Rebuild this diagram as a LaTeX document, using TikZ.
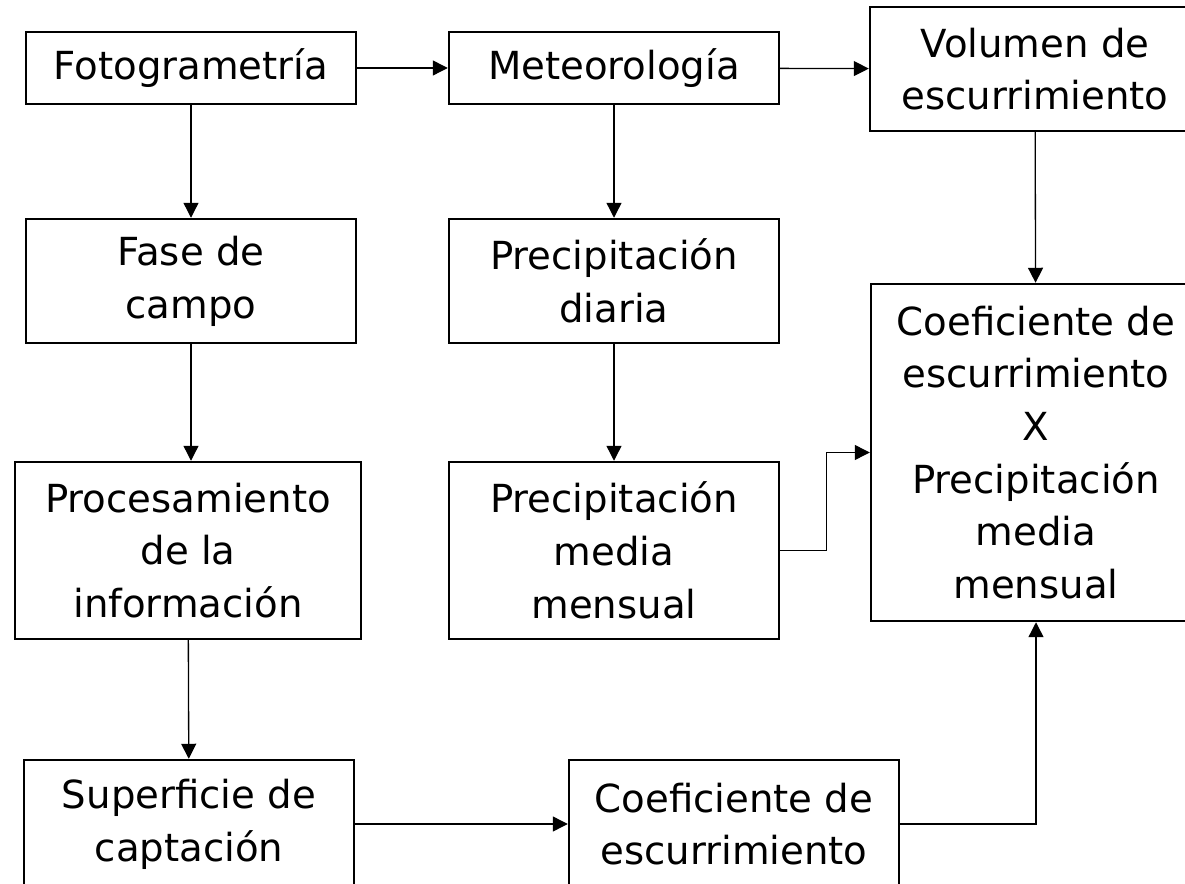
\documentclass[tikz,border=0pt]{standalone}
\usepackage{fontspec}
\setmainfont{DejaVu Sans}
\usetikzlibrary{arrows.meta}

\begin{document}
\begin{tikzpicture}[
            box/.style={rectangle, draw=black, line width=1.4pt, minimum width=6.6cm, minimum height=2.48cm, inner sep=0pt, align=center, font=\fontsize{22}{30}\selectfont},
            arrow/.style={-{Triangle[length=0.3cm, width=0.3cm]}, line width=0.75pt, black}
        ]
            \useasboundingbox (0,0) rectangle (23.7,17.66);

            % Boxes
            \node[box, minimum height=1.44cm] (foto) at (3.82,16.30) {Fotogrametría};
            \node[box, minimum height=1.44cm] (meteo) at (12.28,16.30) {Meteorología};
            \node[box] (volumen) at (20.70,16.28) {Volumen de\\escurrimiento};
            \node[box] (fase) at (3.82,12.04) {Fase de\\campo};
            \node[box] (diaria) at (12.28,12.04) {Precipitación\\diaria};
            \node[box, minimum height=6.74cm] (producto) at (20.72,8.61) {Coeficiente de\\escurrimiento\\X\\Precipitación\\media\\mensual};
            \node[box, minimum width=6.92cm, minimum height=3.54cm] (proc) at (3.76,6.65) {Procesamiento\\de la\\información};
            \node[box, minimum height=3.54cm] (media) at (12.28,6.65) {Precipitación\\media\\mensual};
            \node[box, minimum height=2.56cm] (superficie) at (3.78,1.18) {Superficie de\\captación};
            \node[box, minimum height=2.56cm] (coef) at (14.68,1.18) {Coeficiente de\\escurrimiento};

            % Arrows
            \draw[arrow] (foto) -- (meteo);
            \draw[arrow] (meteo) -- (volumen);
            \draw[arrow] (foto) -- (fase);
            \draw[arrow] (fase) -- (proc.north -| fase.south);
            \draw[arrow] (proc) -- (superficie);
            \draw[arrow] (meteo) -- (diaria);
            \draw[arrow] (diaria) -- (media);
            \draw[arrow] (volumen) -- (producto);
            \draw[arrow] (superficie) -- (coef);

            % Into the product box
            \draw[arrow] (media.east) -- ++(0.92,0) |- (producto.west);
            \draw[arrow] (coef.east) -| (producto.south);
        \end{tikzpicture}
\end{document}
